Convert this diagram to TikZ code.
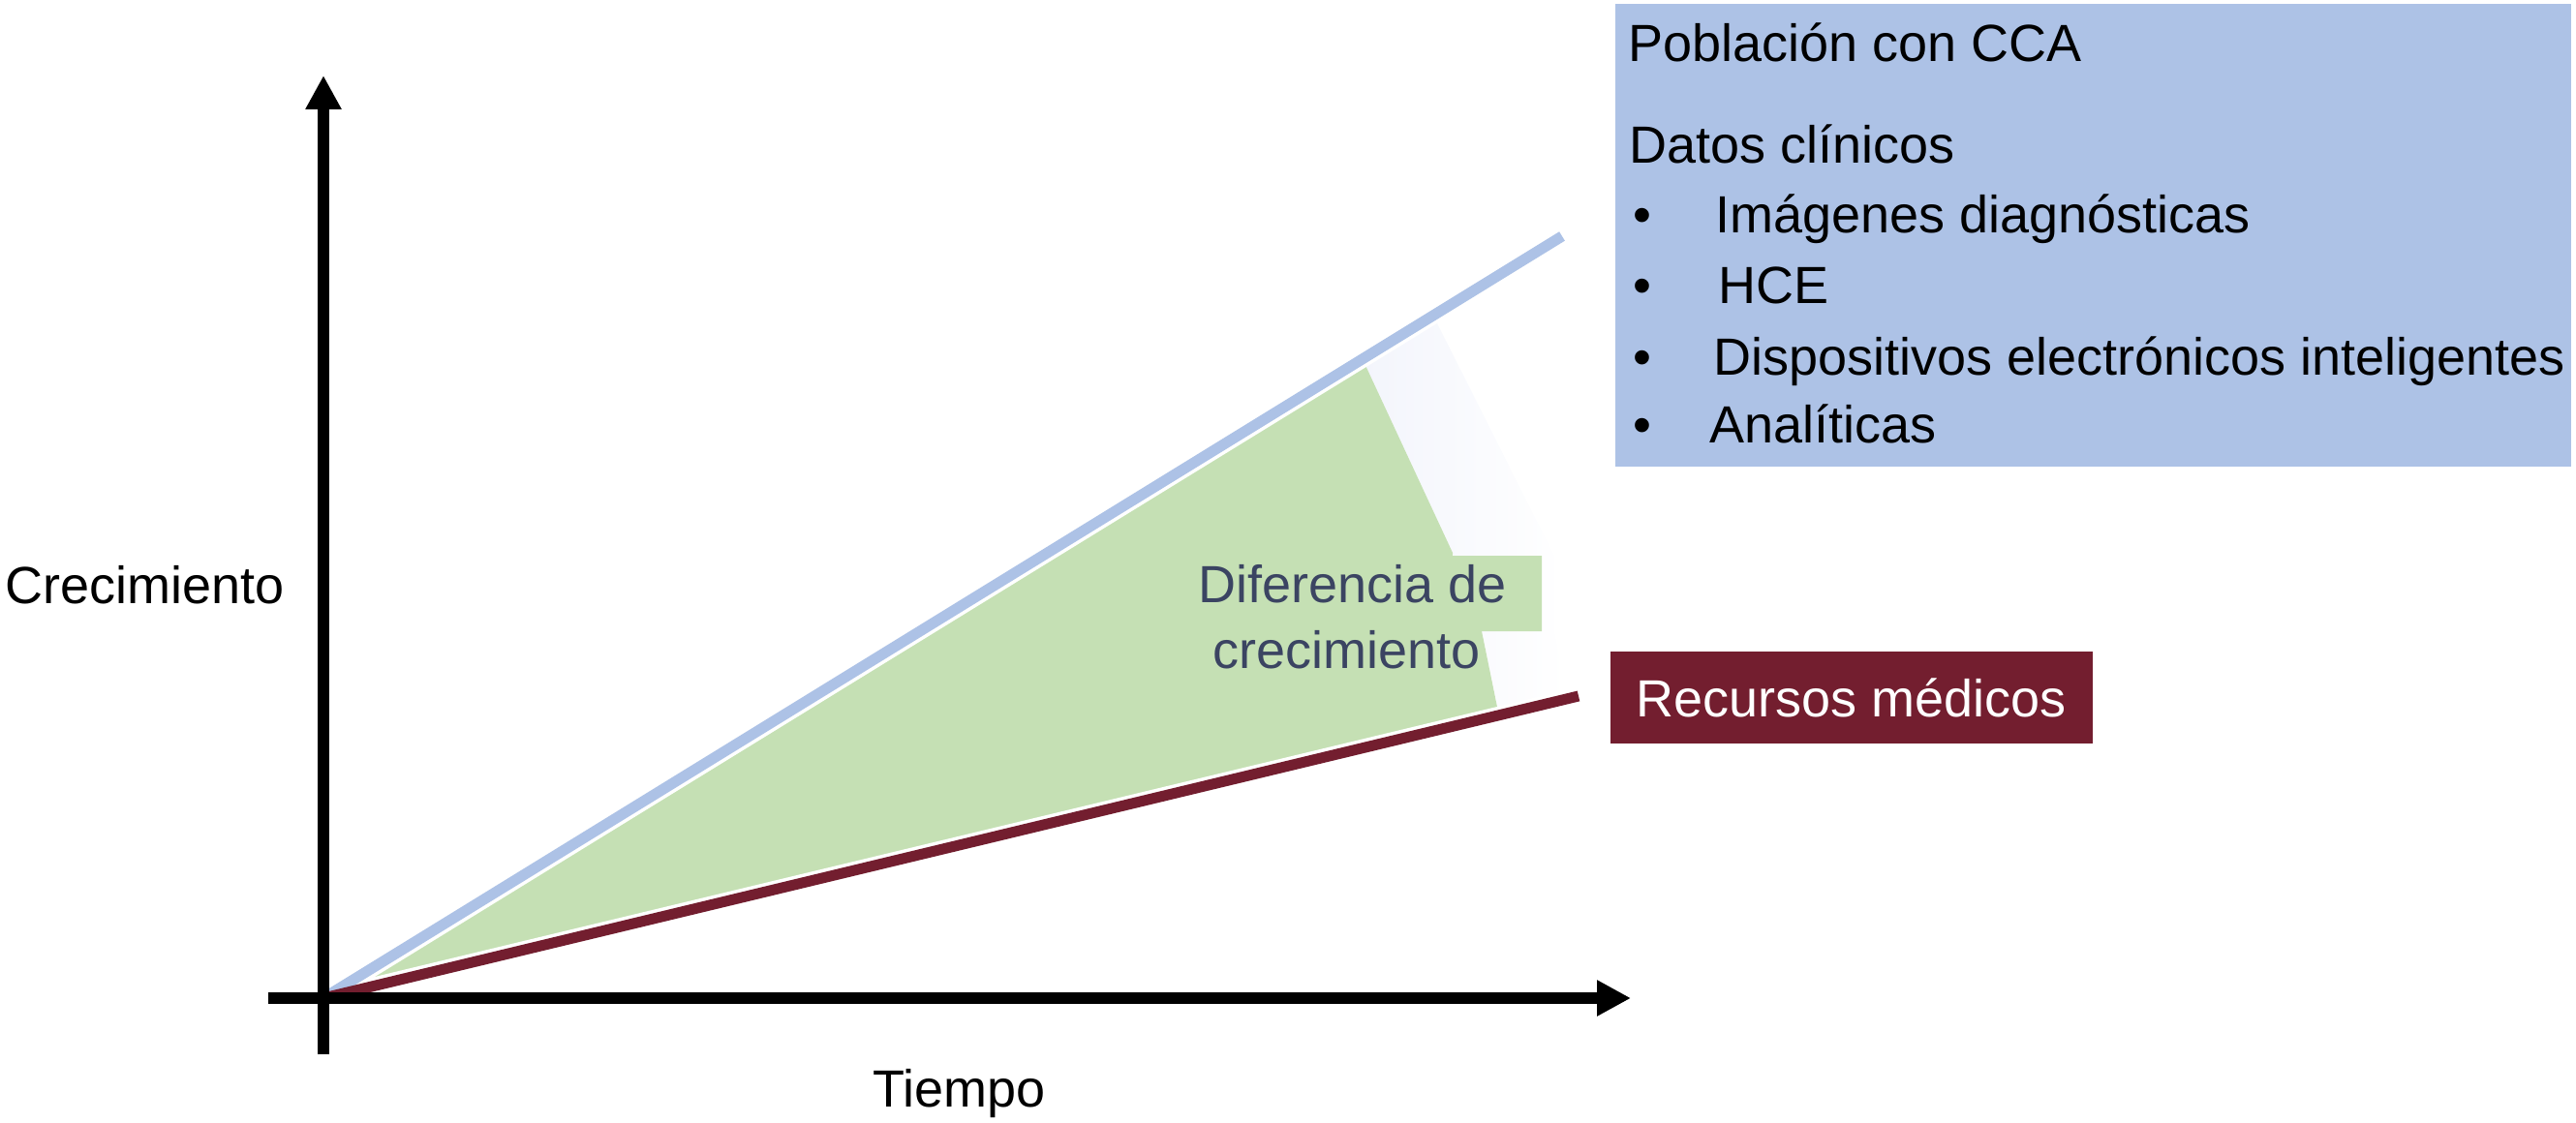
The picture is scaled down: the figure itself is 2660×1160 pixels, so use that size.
\documentclass[tikz,border=0pt]{standalone}
\usepackage{fontspec}
\setmainfont{Liberation Sans}
\usetikzlibrary{arrows.meta}
\definecolor{cblue}{RGB}{173,194,230}
\definecolor{cred}{RGB}{115,30,47}
\definecolor{cgreen}{RGB}{197,224,180}
\definecolor{ctext}{RGB}{59,68,98}
\definecolor{cshade}{RGB}{243,245,252}
\begin{document}
\begin{tikzpicture}[x=0.5pt,y=-0.5pt,
  lbl/.style={font=\fontsize{27pt}{32pt}\selectfont, inner sep=0pt},
  axisline/.style={line width=6pt, -{Triangle[length=17.5pt,width=17.5pt]}},
  trend/.style={line width=5.5pt},
  gapline/.style={line width=9pt, white}]
\useasboundingbox (0,0) rectangle (2660,1160);
\coordinate (O) at (334,1031);
\coordinate (B) at (1613,244);
\coordinate (R) at (1630,719);
\coordinate (Ytop) at (334,78);
\coordinate (Ybot) at (334,1089);
\coordinate (Xl) at (277,1031);
\coordinate (Xr) at (1684,1031);
% faint shadow right of the green area
\shade[left color=cshade, right color=white]
  (1407,371) -- (1480,326) -- (1605,574) -- (1605,652) -- (1618,721)
  -- (1548,738) -- (1530,652) -- (1500,571) -- cycle;
% green difference area
\fill[cgreen] (O) -- (1407,371) -- (1500,571) -- (1500,574) -- (1592,574)
  -- (1592,652) -- (1530,652) -- (1548,740) -- cycle;
% trend lines with white gaps
\draw[gapline] (O) -- (B);
\draw[gapline] (O) -- (R);
\draw[trend, cblue] (O) -- (B);
\draw[trend, cred] (O) -- (R);
% axes
\draw[axisline] (Ybot) -- (Ytop);
\draw[axisline] (Xl) -- (Xr);
% axis labels
\node[lbl, anchor=base west] (ylab) at (5,623) {Crecimiento};
\node[lbl, anchor=base] (xlab) at (991,1143) {Tiempo};
% difference label
\node[lbl, anchor=base, text=ctext] (diff1) at (1397,622) {Diferencia de};
\node[lbl, anchor=base, text=ctext] (diff2) at (1391,690) {crecimiento};
% population box
\node[fill=cblue, minimum width=493.5pt, minimum height=239pt, anchor=north west, inner sep=0pt] (pop) at (1668,4) {};
\node[lbl, anchor=base west] (p0) at (1681,64) {Población con CCA};
\node[lbl, anchor=base west] (p1) at (1682,169) {Datos clínicos};
\node[lbl, anchor=base] (b1) at (1696,241) {•};
\node[lbl, anchor=base west] (p2) at (1771,241) {Imágenes diagnósticas};
\node[lbl, anchor=base] (b2) at (1696,314) {•};
\node[lbl, anchor=base west] (p3) at (1774,314) {HCE};
\node[lbl, anchor=base] (b3) at (1696,387) {•};
\node[lbl, anchor=base west] (p4) at (1769,387) {Dispositivos electrónicos inteligentes};
\node[lbl, anchor=base] (b4) at (1696,458) {•};
\node[lbl, anchor=base west] (p5) at (1765,458) {Analíticas};
% resources box
\node[fill=cred, text=white, minimum width=249pt, minimum height=47.5pt, inner sep=0pt,
  font=\fontsize{27pt}{32pt}\selectfont] (res) at (1912,720.5) {Recursos médicos};
\end{tikzpicture}
\end{document}
